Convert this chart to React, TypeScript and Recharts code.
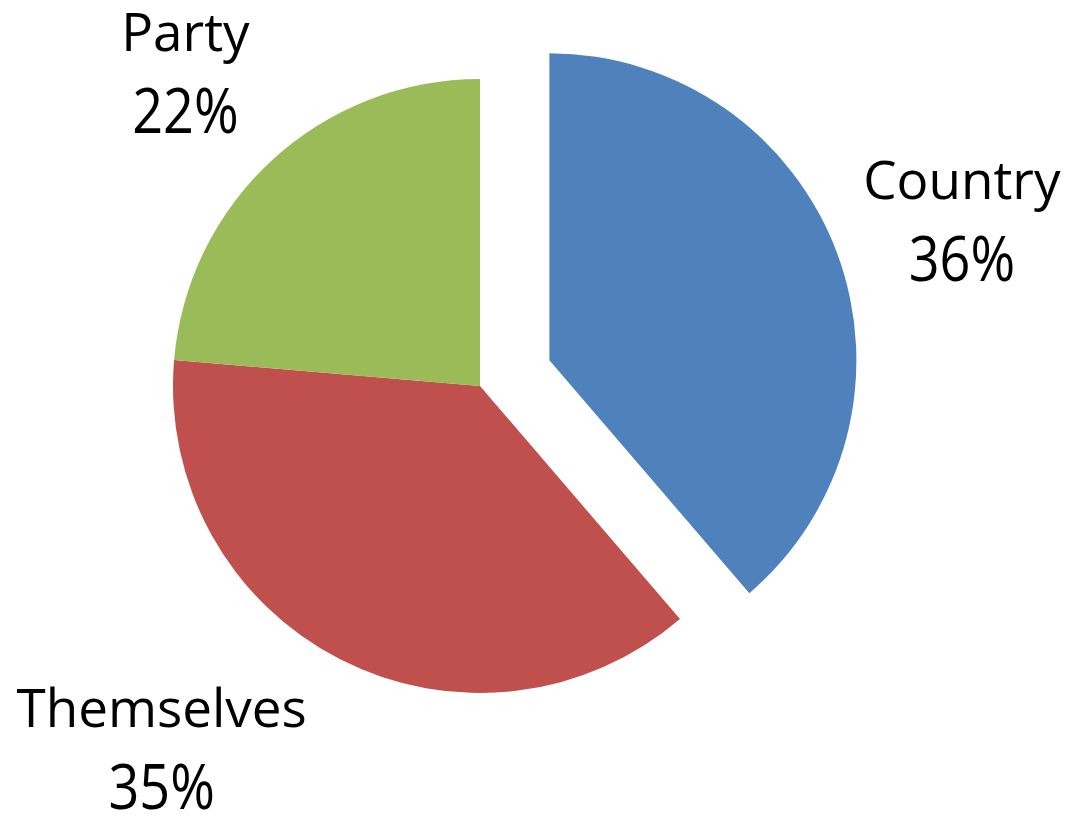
import React from 'react';
import { Pie, PieChart } from 'recharts';

const categories = ['Country', 'Themselves', 'Party'];
const shares = [36, 35, 22];
const sliceColors = ['#4F81BD', '#C0504D', '#9BBB59'];
const explodedCategory = 'Country';

const WIDTH = 1072;
const HEIGHT = 818;
const CX = 480;
const CY = 386;
const RADIUS = 307;
const EXPLODE = 74;
const FONT = '"Open Sans", sans-serif';
const FONT_SIZE = 53;
const LINE_GAP = 82;

// where Excel put each label: radius factor + angle nudge (deg)
const labelLayout: Record<string, { k: number; da: number }> = {
  Country: { k: 1.4, da: -4 },
  Themselves: { k: 1.62, da: -12.7 },
  Party: { k: 1.355, da: 2.5 },
};

const data = categories.map((name, i) => ({ name, value: shares[i] }));

const RAD = Math.PI / 180;

// mid angle of the exploded slice, same sweep as the pie (clockwise from 12 o'clock)
const total = shares.reduce((a, b) => a + b, 0);
const explodedIdx = categories.indexOf(explodedCategory);
const before = shares.slice(0, explodedIdx).reduce((a, b) => a + b, 0);
const explodedMid = 90 - ((before + shares[explodedIdx] / 2) / total) * 360;
const shiftedCx = CX + EXPLODE * Math.cos(explodedMid * RAD);
const shiftedCy = CY - EXPLODE * Math.sin(explodedMid * RAD);

const makeLabel = (exploded: boolean) => (props: any) => {
  const { cx, cy, midAngle, outerRadius, payload, value } = props;
  const name = payload?.name ?? props.name;
  if ((name === explodedCategory) !== exploded) return null;
  const lay = labelLayout[name] ?? { k: 1.4, da: 0 };
  const a = (midAngle + lay.da) * RAD;
  const x = cx + outerRadius * lay.k * Math.cos(a);
  const y = cy - outerRadius * lay.k * Math.sin(a);
  return (
    <g key={`lbl-${name}`}>
      <text
        x={x}
        y={y - LINE_GAP / 2}
        textAnchor="middle"
        fontFamily={FONT}
        fontSize={FONT_SIZE}
        fontWeight={500}
        fill="#000"
      >
        {name}
      </text>
      <text
        transform={`translate(${x}, ${y + LINE_GAP / 2}) scale(1.02, 1.16)`}
        textAnchor="middle"
        fontFamily={FONT}
        fontSize={FONT_SIZE}
        fontWeight={500}
        fill="#000"
      >
        {`${value}%`}
      </text>
    </g>
  );
};

const cellFill = (exploded: boolean) =>
  data.map((d, i) => ((d.name === explodedCategory) === exploded ? sliceColors[i] : 'transparent'));

export default function App() {
  const mainFills = cellFill(false);
  const explodedFills = cellFill(true);
  return (
    <div style={{ position: 'absolute', left: 0, top: 0, background: '#fff' }}>
      <PieChart width={WIDTH} height={HEIGHT} margin={{ top: 0, right: 0, bottom: 0, left: 0 }}>
        <Pie
          data={data.map((d, i) => ({ ...d, fill: mainFills[i] }))}
          dataKey="value"
          nameKey="name"
          cx={CX}
          cy={CY}
          outerRadius={RADIUS}
          startAngle={90}
          endAngle={-270}
          stroke="none"
          labelLine={false}
          label={makeLabel(false)}
          isAnimationActive={false}
        />
        <Pie
          data={data.map((d, i) => ({ ...d, fill: explodedFills[i] }))}
          dataKey="value"
          nameKey="name"
          cx={shiftedCx}
          cy={shiftedCy}
          outerRadius={RADIUS}
          startAngle={90}
          endAngle={-270}
          stroke="none"
          labelLine={false}
          label={makeLabel(true)}
          isAnimationActive={false}
        />
      </PieChart>
    </div>
  );
}
